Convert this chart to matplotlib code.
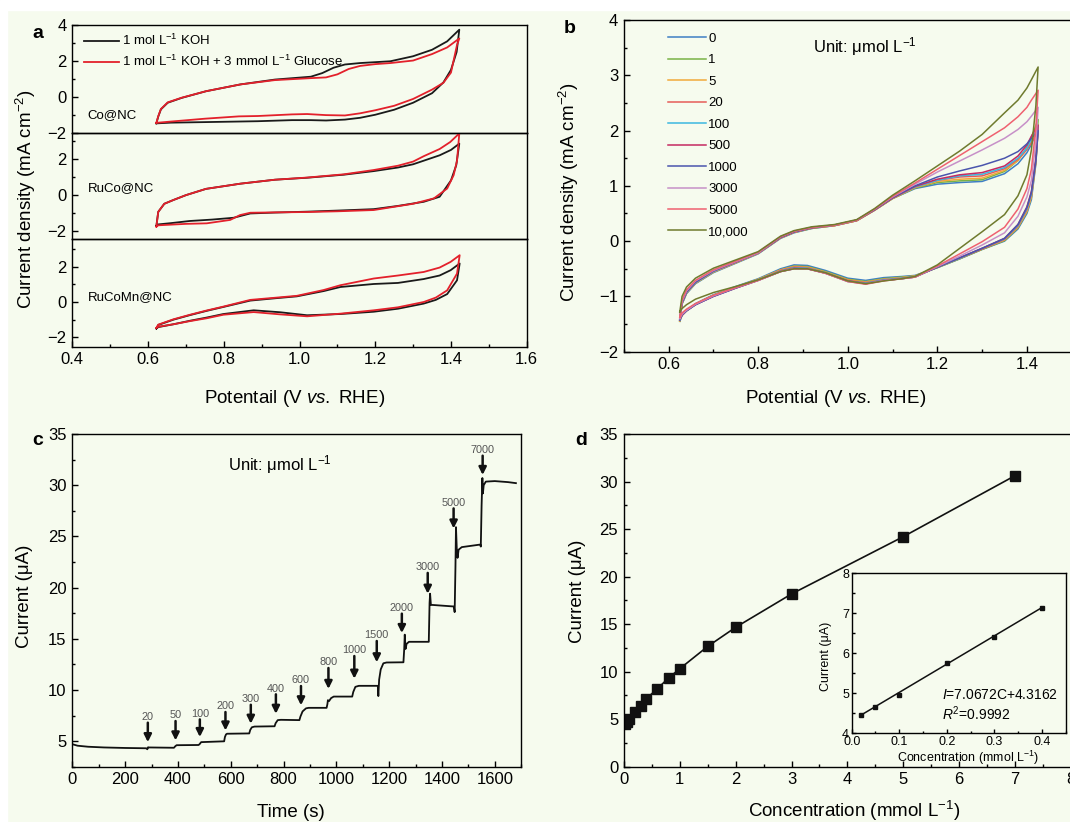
import matplotlib
matplotlib.use('Agg')
import matplotlib.pyplot as plt
from matplotlib.ticker import MultipleLocator
from matplotlib.patches import Rectangle

plt.rcParams['font.family'] = ['Liberation Sans', 'DejaVu Sans']
plt.rcParams['mathtext.fontset'] = 'custom'
plt.rcParams['mathtext.rm'] = 'Liberation Sans'
plt.rcParams['mathtext.it'] = 'Liberation Sans:italic'
plt.rcParams['mathtext.bf'] = 'Liberation Sans:bold'
plt.rcParams['axes.linewidth'] = 1.0
plt.rcParams['xtick.direction'] = 'in'
plt.rcParams['ytick.direction'] = 'in'

BG = '#f6fbee'
W, H = 1070, 822

# ---------------- panel a : CV loops (closed paths, V then I) ----------------
co_koh_v = [0.622, 0.627, 0.634, 0.652, 0.689, 0.753, 0.844, 0.935, 1.03, 1.06, 1.09, 1.12, 1.16, 1.24, 1.30, 1.35, 1.39, 1.422,
            1.415, 1.40, 1.38, 1.35, 1.30, 1.25, 1.20, 1.16, 1.12, 1.07, 1.03, 0.98, 0.89, 0.75, 0.66, 0.622]
co_koh_i = [-1.48, -1.1, -0.7, -0.33, -0.06, 0.31, 0.69, 0.96, 1.12, 1.32, 1.62, 1.80, 1.88, 1.98, 2.26, 2.62, 3.09, 3.74,
            2.50, 1.50, 0.80, 0.20, -0.33, -0.72, -1.0, -1.17, -1.27, -1.32, -1.30, -1.30, -1.36, -1.41, -1.44, -1.48]
co_glu_v = [0.622, 0.627, 0.634, 0.652, 0.689, 0.753, 0.844, 0.935, 1.03, 1.07, 1.10, 1.13, 1.16, 1.20, 1.24, 1.30, 1.35, 1.39, 1.422,
            1.416, 1.40, 1.38, 1.35, 1.30, 1.25, 1.20, 1.16, 1.12, 1.07, 1.02, 0.98, 0.89, 0.84, 0.75, 0.66, 0.622]
co_glu_i = [-1.45, -1.08, -0.68, -0.31, -0.05, 0.31, 0.69, 0.93, 1.04, 1.08, 1.25, 1.55, 1.72, 1.82, 1.88, 2.02, 2.38, 2.75, 3.25,
            2.89, 1.35, 0.78, 0.40, -0.12, -0.50, -0.75, -0.92, -1.04, -1.02, -0.96, -0.98, -1.07, -1.09, -1.22, -1.38, -1.45]

ruco_koh_v = [0.622, 0.627, 0.643, 0.667, 0.70, 0.753, 0.844, 0.935, 1.02, 1.117, 1.196, 1.26, 1.30, 1.328, 1.37, 1.40, 1.422,
              1.414, 1.40, 1.37, 1.328, 1.26, 1.196, 1.10, 1.02, 0.935, 0.87, 0.826, 0.77, 0.71, 0.66, 0.627, 0.622]
ruco_koh_i = [-1.73, -0.95, -0.50, -0.29, -0.02, 0.33, 0.62, 0.84, 0.95, 1.12, 1.32, 1.52, 1.70, 1.90, 2.20, 2.50, 2.85,
              1.65, 0.80, -0.11, -0.39, -0.62, -0.80, -0.88, -0.94, -0.99, -1.04, -1.28, -1.38, -1.46, -1.58, -1.65, -1.73]
ruco_glu_v = [0.622, 0.627, 0.643, 0.667, 0.70, 0.753, 0.844, 0.935, 1.02, 1.117, 1.196, 1.26, 1.30, 1.328, 1.37, 1.398, 1.422,
              1.416, 1.407, 1.39, 1.355, 1.30, 1.196, 1.10, 1.02, 0.935, 0.87, 0.843, 0.817, 0.755, 0.70, 0.627, 0.622]
ruco_glu_i = [-1.77, -0.95, -0.50, -0.29, -0.02, 0.33, 0.62, 0.84, 0.96, 1.14, 1.38, 1.62, 1.85, 2.15, 2.55, 2.94, 3.42,
              1.90, 1.09, 0.35, -0.20, -0.50, -0.85, -0.92, -0.96, -0.98, -1.00, -1.13, -1.40, -1.59, -1.62, -1.70, -1.77]

mn_v = [0.622, 0.627, 0.667, 0.711, 0.755, 0.799, 0.87, 0.94, 0.993, 1.064, 1.108, 1.196, 1.26, 1.328, 1.37, 1.399, 1.423,
        1.416, 1.39, 1.36, 1.328, 1.26, 1.196, 1.108, 1.02, 0.949, 0.879, 0.799, 0.755, 0.711, 0.667, 0.627, 0.622]
mn_koh_i = [-1.50, -1.30, -1.00, -0.74, -0.50, -0.28, 0.08, 0.22, 0.32, 0.62, 0.85, 1.02, 1.08, 1.30, 1.50, 1.80, 2.18,
            1.23, 0.45, 0.12, -0.09, -0.38, -0.55, -0.68, -0.75, -0.58, -0.47, -0.68, -0.88, -1.06, -1.26, -1.42, -1.50]
mn_glu_i = [-1.47, -1.28, -0.98, -0.72, -0.48, -0.26, 0.12, 0.25, 0.35, 0.68, 0.95, 1.33, 1.50, 1.70, 1.95, 2.27, 2.65,
            1.61, 0.66, 0.25, 0.0, -0.30, -0.47, -0.66, -0.81, -0.70, -0.57, -0.72, -0.92, -1.08, -1.26, -1.40, -1.47]

# ---------------- panel b : CV at glucose concentrations ----------------
b_labels = ['0', '1', '5', '20', '100', '500', '1000', '3000', '5000', '10,000']
b_colors = ['#3f7fc4', '#79b246', '#f2a93b', '#e65c58', '#3cb8e0', '#c52a62', '#4a55ad', '#c790c8', '#ef6170', '#6f7b2e']
fwd_v = [0.625, 0.63, 0.64, 0.66, 0.70, 0.75, 0.80, 0.85, 0.88, 0.92, 0.97, 1.02, 1.06, 1.10, 1.15, 1.20, 1.25, 1.30,
         1.35, 1.38, 1.40, 1.41, 1.425]
rev_v = [1.425, 1.42, 1.41, 1.40, 1.38, 1.35, 1.30, 1.25, 1.20, 1.15, 1.12, 1.08, 1.04, 1.00, 0.95, 0.91, 0.88, 0.85,
         0.80, 0.75, 0.70, 0.66, 0.64, 0.63, 0.625]
fwd_i = [
    [-1.45, -1.14, -0.95, -0.77, -0.57, -0.40, -0.23, 0.05, 0.15, 0.23, 0.28, 0.37, 0.56, 0.77, 0.95, 1.03, 1.06, 1.08, 1.22, 1.40, 1.60, 1.75, 2.05],
    [-1.44, -1.13, -0.94, -0.76, -0.56, -0.39, -0.22, 0.06, 0.16, 0.23, 0.28, 0.37, 0.56, 0.77, 0.96, 1.06, 1.09, 1.11, 1.26, 1.46, 1.70, 1.88, 2.20],
    [-1.44, -1.13, -0.94, -0.76, -0.56, -0.39, -0.22, 0.06, 0.16, 0.24, 0.28, 0.37, 0.56, 0.77, 0.97, 1.08, 1.12, 1.14, 1.28, 1.46, 1.66, 1.80, 2.05],
    [-1.43, -1.12, -0.93, -0.75, -0.55, -0.38, -0.22, 0.06, 0.16, 0.24, 0.28, 0.37, 0.56, 0.78, 0.98, 1.10, 1.16, 1.18, 1.31, 1.48, 1.66, 1.78, 2.00],
    [-1.43, -1.12, -0.93, -0.75, -0.55, -0.38, -0.21, 0.07, 0.17, 0.24, 0.29, 0.38, 0.57, 0.78, 0.98, 1.10, 1.18, 1.21, 1.33, 1.50, 1.68, 1.84, 2.08],
    [-1.42, -1.11, -0.92, -0.74, -0.54, -0.38, -0.21, 0.07, 0.17, 0.24, 0.29, 0.38, 0.57, 0.78, 0.99, 1.12, 1.20, 1.24, 1.36, 1.54, 1.74, 1.90, 2.10],
    [-1.42, -1.11, -0.92, -0.74, -0.54, -0.37, -0.21, 0.07, 0.17, 0.25, 0.29, 0.38, 0.57, 0.79, 1.00, 1.16, 1.27, 1.37, 1.50, 1.62, 1.76, 1.86, 2.00],
    [-1.40, -1.09, -0.90, -0.72, -0.53, -0.37, -0.21, 0.08, 0.18, 0.25, 0.29, 0.38, 0.58, 0.80, 1.03, 1.25, 1.45, 1.65, 1.86, 2.02, 2.16, 2.26, 2.42],
    [-1.38, -1.07, -0.88, -0.71, -0.52, -0.36, -0.20, 0.08, 0.18, 0.25, 0.29, 0.38, 0.58, 0.81, 1.05, 1.30, 1.55, 1.80, 2.05, 2.25, 2.42, 2.55, 2.73],
    [-1.28, -1.00, -0.83, -0.67, -0.49, -0.34, -0.19, 0.09, 0.19, 0.26, 0.30, 0.39, 0.59, 0.83, 1.09, 1.36, 1.63, 1.93, 2.32, 2.55, 2.77, 2.92, 3.15],
]
rev_i = [
    [2.05, 1.40, 0.75, 0.50, 0.22, 0.00, -0.15, -0.32, -0.48, -0.62, -0.64, -0.66, -0.71, -0.67, -0.53, -0.44, -0.43, -0.50, -0.68, -0.82, -0.97, -1.13, -1.25, -1.34, -1.45],
    [2.20, 1.45, 0.80, 0.53, 0.24, 0.01, -0.15, -0.32, -0.48, -0.63, -0.65, -0.68, -0.73, -0.69, -0.55, -0.46, -0.45, -0.52, -0.69, -0.83, -0.98, -1.14, -1.26, -1.34, -1.44],
    [2.05, 1.42, 0.80, 0.54, 0.25, 0.02, -0.14, -0.31, -0.47, -0.63, -0.66, -0.69, -0.74, -0.70, -0.56, -0.47, -0.46, -0.52, -0.69, -0.83, -0.98, -1.14, -1.26, -1.34, -1.44],
    [2.00, 1.45, 0.84, 0.57, 0.27, 0.03, -0.14, -0.31, -0.47, -0.64, -0.67, -0.70, -0.75, -0.71, -0.57, -0.48, -0.47, -0.53, -0.70, -0.84, -0.99, -1.15, -1.26, -1.34, -1.43],
    [2.08, 1.48, 0.86, 0.59, 0.28, 0.04, -0.13, -0.31, -0.47, -0.64, -0.67, -0.70, -0.76, -0.72, -0.57, -0.49, -0.48, -0.54, -0.70, -0.84, -0.99, -1.15, -1.26, -1.34, -1.43],
    [2.10, 1.50, 0.90, 0.62, 0.30, 0.05, -0.13, -0.30, -0.47, -0.65, -0.68, -0.71, -0.77, -0.72, -0.58, -0.50, -0.49, -0.55, -0.71, -0.85, -1.00, -1.15, -1.26, -1.34, -1.42],
    [2.00, 1.45, 0.88, 0.61, 0.30, 0.05, -0.13, -0.30, -0.47, -0.65, -0.68, -0.71, -0.77, -0.73, -0.58, -0.50, -0.50, -0.55, -0.71, -0.85, -1.00, -1.15, -1.26, -1.33, -1.42],
    [2.42, 1.80, 1.10, 0.80, 0.45, 0.15, -0.07, -0.27, -0.46, -0.65, -0.68, -0.71, -0.77, -0.73, -0.58, -0.50, -0.50, -0.55, -0.71, -0.84, -0.99, -1.14, -1.25, -1.32, -1.40],
    [2.73, 2.05, 1.30, 0.95, 0.58, 0.25, -0.01, -0.23, -0.45, -0.65, -0.68, -0.72, -0.78, -0.73, -0.58, -0.50, -0.50, -0.55, -0.71, -0.84, -0.98, -1.13, -1.23, -1.30, -1.38],
    [3.15, 2.45, 1.65, 1.20, 0.82, 0.48, 0.17, -0.13, -0.43, -0.64, -0.68, -0.72, -0.77, -0.72, -0.57, -0.50, -0.50, -0.55, -0.70, -0.82, -0.93, -1.05, -1.15, -1.22, -1.28],
]

# ---------------- panel c : amperometric i-t trace ----------------
t_trace = [0, 20, 60, 120, 200, 280, 284, 287, 290, 385, 390, 395, 478, 482, 488, 575, 578, 582, 586,
           670, 674, 680, 690, 766, 770, 778, 790, 860, 864, 872, 885, 895, 963, 966, 968, 972, 980, 990,
           1060, 1064, 1072, 1085, 1157, 1159, 1162, 1168, 1178, 1190, 1254, 1257, 1259, 1262, 1266, 1275,
           1350, 1353, 1355, 1358, 1365, 1445, 1448, 1451, 1453, 1456, 1459, 1463, 1475, 1545, 1547, 1550,
           1553, 1555, 1558, 1566, 1600, 1650, 1680]
i_trace = [4.7, 4.55, 4.45, 4.38, 4.33, 4.3, 4.2, 4.4, 4.38, 4.35, 4.5, 4.6, 4.62, 4.7, 4.9, 4.98, 5.4, 5.65, 5.72,
           5.75, 6.1, 6.35, 6.42, 6.45, 6.75, 7.05, 7.08, 7.05, 7.4, 7.9, 8.2, 8.25, 8.25, 8.6, 9.0, 8.9, 9.2, 9.35,
           9.35, 9.8, 10.3, 10.4, 10.4, 9.4, 11.0, 12.0, 12.6, 12.68, 12.7, 14.0, 15.4, 14.0, 14.5, 14.7,
           14.7, 18.5, 19.4, 18.3, 18.3, 18.15, 17.6, 22.0, 25.9, 23.8, 22.9, 23.7, 23.95, 24.2, 24.0, 28.0,
           30.7, 29.2, 30.0, 30.35, 30.4, 30.3, 30.2]
add_labels = ['20', '50', '100', '200', '300', '400', '600', '800', '1000', '1500', '2000', '3000', '5000', '7000']
add_t = [286, 391, 483, 580, 676, 771, 866, 970, 1068, 1153, 1248, 1346, 1444, 1554]
add_label_i = [7.35, 7.51, 7.67, 8.39, 9.1, 10.12, 10.93, 12.69, 13.86, 15.33, 18.0, 21.98, 28.28, 33.43]
add_tip_i = [4.9, 5.07, 5.4, 6.04, 6.7, 7.67, 8.5, 10.1, 11.1, 12.7, 15.56, 19.4, 25.77, 31.0]

# ---------------- panel d : calibration ----------------
conc = [0.02, 0.05, 0.1, 0.2, 0.3, 0.4, 0.6, 0.8, 1.0, 1.5, 2, 3, 5, 7]
current = [4.47, 4.66, 4.97, 5.76, 6.41, 7.14, 8.2, 9.33, 10.3, 12.65, 14.66, 18.17, 24.2, 30.62]
inset_conc = [0.02, 0.05, 0.1, 0.2, 0.3, 0.4]
inset_current = [4.47, 4.66, 4.97, 5.76, 6.41, 7.14]
fit_slope, fit_intercept = 7.0672, 4.3162
fit_range = [0.02, 0.4]


def box(l, t, r, b):
    return [l / W, 1 - b / H, (r - l) / W, (b - t) / H]


def style(ax, xmaj, xmin, ymaj, ymin, size=12):
    ax.set_facecolor('none')
    ax.xaxis.set_major_locator(MultipleLocator(xmaj))
    ax.xaxis.set_minor_locator(MultipleLocator(xmin))
    ax.yaxis.set_major_locator(MultipleLocator(ymaj))
    ax.yaxis.set_minor_locator(MultipleLocator(ymin))
    ax.tick_params(which='major', length=4, width=1, labelsize=size, pad=4)
    ax.tick_params(which='minor', length=2.5, width=1)


fig = plt.figure(figsize=(W / 100, H / 100), dpi=100, facecolor=BG)
fig.patches.append(Rectangle((0, 1 - 10 / H), 1, 10 / H, transform=fig.transFigure, color='white', zorder=0))
fig.patches.append(Rectangle((0, 0), 7 / W, 1, transform=fig.transFigure, color='white', zorder=0))

# ---- a ----
a_rows = [(25, 132.7, (-2, 4), co_koh_v, co_koh_i, co_glu_v, co_glu_i, 'Co@NC', 115),
          (132.7, 239.3, (-2.48, 3.46), ruco_koh_v, ruco_koh_i, ruco_glu_v, ruco_glu_i, 'RuCo@NC', 188.3),
          (239.3, 346.7, (-2.53, 3.55), mn_v, mn_koh_i, mn_v, mn_glu_i, 'RuCoMn@NC', 296.7)]
for k, (top, bot, ylim, kv, ki, gv, gi, name, ny) in enumerate(a_rows):
    ax = fig.add_axes(box(72.3, top, 526.7, bot))
    style(ax, 0.2, 0.1, 2, 1)
    l1, = ax.plot(kv, ki, color='#1a1a1a', lw=1.3, label='1 mol L$^{-1}$ KOH')
    l2, = ax.plot(gv, gi, color='#e3202b', lw=1.3, label='1 mol L$^{-1}$ KOH + 3 mmol L$^{-1}$ Glucose')
    ax.set_xlim(0.4, 1.6)
    ax.set_ylim(*ylim)
    ax.text(87.8 / W, 1 - ny / H, name, transform=fig.transFigure, fontsize=9.5, va='center', ha='left')
    if k < 2:
        ax.tick_params(axis='x', which='both', length=0, labelbottom=False)
    else:
        ax.xaxis.set_major_formatter(matplotlib.ticker.FormatStrFormatter('%.1f'))
    if k == 0:
        ax.legend(handles=[l1, l2], loc='upper left', bbox_to_anchor=(0.0266, 0.925), frameon=False,
                  fontsize=9.5, handlelength=2.6, handletextpad=0.26, labelspacing=0.45,
                  borderpad=0, borderaxespad=0)

fig.text(294.4 / W, 1 - 398.3 / H, 'Potentail (V $\\mathit{vs.}$ RHE)', fontsize=13.5, ha='center', va='center')
fig.text(25.8 / W, 1 - 199 / H, 'Current density (mA cm$^{-2}$)', fontsize=13.5, ha='center', va='center', rotation=90)
fig.text(37.9 / W, 1 - 33.3 / H, 'a', fontsize=14, fontweight='bold', ha='center', va='center')

# ---- b ----
axb = fig.add_axes(box(623.8, 20, 1116.5, 351.7))
style(axb, 0.2, 0.1, 1, 0.5)
for k in range(len(b_labels)):
    axb.plot(fwd_v + rev_v, fwd_i[k] + rev_i[k], color=b_colors[k], lw=1.1, label=b_labels[k])
axb.set_xlim(0.5, 1.6)
axb.set_ylim(-2, 4)
axb.xaxis.set_major_formatter(matplotlib.ticker.FormatStrFormatter('%.1f'))
axb.legend(loc='upper left', bbox_to_anchor=(0.0893, 0.962), frameon=False, fontsize=9.5,
           handlelength=2.86, handletextpad=0.2, labelspacing=0.7, borderpad=0, borderaxespad=0)
axb.text(1.039, 3.52, 'Unit: μmol L$^{-1}$', fontsize=12, ha='center', va='center')
fig.text(835.8 / W, 1 - 398.3 / H, 'Potential (V $\\mathit{vs.}$ RHE)', fontsize=13.5, ha='center', va='center')
fig.text(568.7 / W, 1 - 191.7 / H, 'Current density (mA cm$^{-2}$)', fontsize=13.5, ha='center', va='center', rotation=90)
fig.text(569.7 / W, 1 - 28.3 / H, 'b', fontsize=14, fontweight='bold', ha='center', va='center')

# ---- c ----
axc = fig.add_axes(box(72.3, 434, 521.2, 766.7))
style(axc, 200, 100, 5, 2.5)
axc.plot(t_trace, i_trace, color='#111111', lw=1.3)
for lab, t, li, ti in zip(add_labels, add_t, add_label_i, add_tip_i):
    axc.text(t, li, lab, fontsize=7.8, color='#555555', ha='center', va='center')
    axc.annotate('', xy=(t, ti), xytext=(t, li - 0.55),
                 arrowprops=dict(arrowstyle='-|>', color='#111111', lw=1.8, mutation_scale=11,
                                 shrinkA=0, shrinkB=0))
axc.set_xlim(0, 1700)
axc.set_ylim(2.5, 35)
axc.set_yticks([5, 10, 15, 20, 25, 30, 35])
axc.text(785, 31.97, 'Unit: μmol L$^{-1}$', fontsize=12, ha='center', va='center')
fig.text(291 / W, 1 - 812 / H, 'Time (s)', fontsize=13.5, ha='center', va='center')
fig.text(24.1 / W, 1 - 596.7 / H, 'Current (μA)', fontsize=13.5, ha='center', va='center', rotation=90)
fig.text(37.9 / W, 1 - 440 / H, 'c', fontsize=14, fontweight='bold', ha='center', va='center')

# ---- d ----
axd = fig.add_axes(box(623.8, 434, 1071, 766.7))
style(axd, 1, 0.5, 5, 2.5)
axd.plot(conc, current, color='#111111', lw=1.2, marker='s', ms=6.5)
axd.set_xlim(0, 8)
axd.set_ylim(0, 35)
fig.text(854.4 / W, 1 - 811 / H, 'Concentration (mmol L$^{-1}$)', fontsize=13.5, ha='center', va='center')
fig.text(577.2 / W, 1 - 591.7 / H, 'Current (μA)', fontsize=13.5, ha='center', va='center', rotation=90)
fig.text(581 / W, 1 - 440.7 / H, 'd', fontsize=14, fontweight='bold', ha='center', va='center')

axi = fig.add_axes(box(851.7, 573.3, 1065.7, 733.3))
axi.set_facecolor(BG)
style(axi, 0.1, 0.05, 1, 0.5, size=9)
axi.tick_params(which='major', length=3, pad=2)
axi.tick_params(which='minor', length=1.8)
axi.plot(fit_range, [fit_slope * c + fit_intercept for c in fit_range], color='#111111', lw=1.1)
axi.plot(inset_conc, inset_current, 's', color='#111111', ms=3.5)
axi.set_xlim(0, 0.45)
axi.set_ylim(4, 8)
axi.xaxis.set_major_formatter(matplotlib.ticker.FormatStrFormatter('%.1f'))
axi.text(0.189, 4.96, '$I$=7.0672C+4.3162', fontsize=10, ha='left', va='center')
axi.text(0.189, 4.5, '$R^{2}$=0.9992', fontsize=10, ha='left', va='center')
fig.text(967.7 / W, 1 - 758.3 / H, 'Concentration (mmol L$^{-1}$)', fontsize=9, ha='center', va='center')
fig.text(825.7 / W, 1 - 656.7 / H, 'Current (μA)', fontsize=9, ha='center', va='center', rotation=90)

fig.savefig('out.png', dpi=100, facecolor=BG)
